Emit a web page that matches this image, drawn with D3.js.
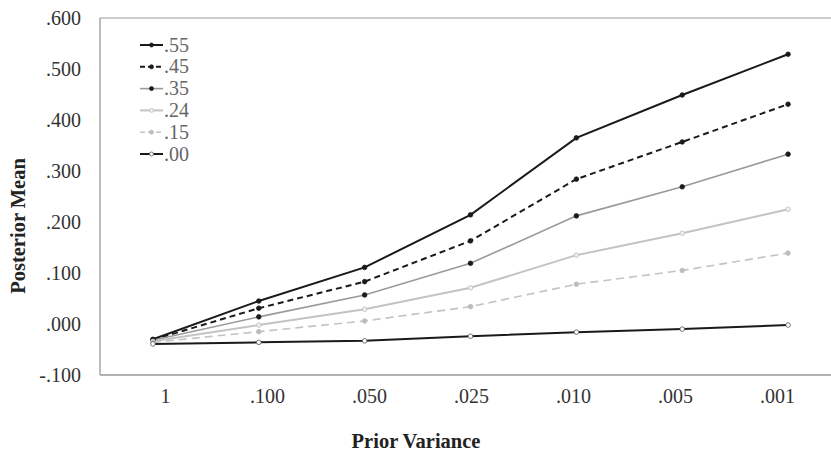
<!DOCTYPE html>
<html><head><meta charset="utf-8">
<script src="https://cdn.jsdelivr.net/npm/d3@7"></script>
<style>html,body{margin:0;padding:0;background:#fff;overflow:hidden}
svg text{font-family:"Liberation Serif","Times New Roman",serif}</style>
</head><body>
<svg id="c" width="831" height="453"></svg>
<script>
const categories = ["1", ".100", ".050", ".025", ".010", ".005", ".001"];
const seriesNames = [".55", ".45", ".35", ".24", ".15", ".00"];
const s55 = [-0.030, 0.045, 0.111, 0.214, 0.365, 0.449, 0.529];
const s45 = [-0.031, 0.031, 0.083, 0.163, 0.284, 0.357, 0.431];
const s35 = [-0.032, 0.014, 0.057, 0.119, 0.212, 0.269, 0.333];
const s24 = [-0.034, -0.002, 0.029, 0.071, 0.135, 0.178, 0.225];
const s15 = [-0.036, -0.015, 0.006, 0.034, 0.078, 0.105, 0.139];
const s00 = [-0.039, -0.036, -0.033, -0.024, -0.016, -0.010, -0.002];
const yTicks = [-0.1, 0, 0.1, 0.2, 0.3, 0.4, 0.5, 0.6];
const xTitle = "Prior Variance";
const yTitle = "Posterior Mean";

const styles = [
  {stroke:"#1a1a1a", width:2, dash:null, mFill:"#1a1a1a", mStroke:"#1a1a1a"},
  {stroke:"#1a1a1a", width:2, dash:"6,4", mFill:"#1a1a1a", mStroke:"#1a1a1a"},
  {stroke:"#9a9a9a", width:1.6, dash:null, mFill:"#1a1a1a", mStroke:"#1a1a1a"},
  {stroke:"#c3c3c3", width:2, dash:null, mFill:"#eeeeee", mStroke:"#bdbdbd"},
  {stroke:"#c3c3c3", width:1.6, dash:"8,5", mFill:"#bdbdbd", mStroke:"#bdbdbd"},
  {stroke:"#1a1a1a", width:2, dash:null, mFill:"#ffffff", mStroke:"#555555"}
];
const series = [s55, s45, s35, s24, s15, s00];

const svg = d3.select("#c");
const pLeft = 100, pTop = 18, pBottom = 375, pRight = 841;
const x = d3.scaleBand().domain(categories).range([pLeft, pRight]);
const xl = d3.scalePoint().domain(categories).range([165, 777]);
const y = d3.scaleLinear().domain([-0.1, 0.6]).range([pBottom, pTop]);
const serif = '"Liberation Serif","Times New Roman",serif';

// frame
svg.append("line").attr("x1", pLeft).attr("x2", pRight).attr("y1", pTop).attr("y2", pTop).attr("stroke", "#9a9a9a").attr("stroke-width", 1);
svg.append("line").attr("x1", pLeft).attr("x2", pRight).attr("y1", pBottom).attr("y2", pBottom).attr("stroke", "#9a9a9a").attr("stroke-width", 1.3);
svg.append("line").attr("x1", pLeft).attr("x2", pLeft).attr("y1", pTop).attr("y2", pBottom).attr("stroke", "#9a9a9a").attr("stroke-width", 1.3);

// y axis labels
const fmt = v => { const s = d3.format(".3f")(Math.abs(v)).replace(/^0/, ""); return (v < 0 ? "-" : "") + s; };
const yAxis = d3.axisLeft(y).tickValues(yTicks).tickFormat(fmt).tickSize(0).tickPadding(19);
const ga = svg.append("g").attr("transform", `translate(${pLeft},0)`).call(yAxis);
ga.attr("font-family", null);
ga.select(".domain").remove();
ga.selectAll("text").style("font-family", serif).style("font-size", "20px").attr("fill", "#333");

// x axis labels
const xAxis = d3.axisBottom(xl).tickSize(0).tickPadding(14);
const gx = svg.append("g").attr("transform", `translate(0,${pBottom})`).call(xAxis);
gx.attr("font-family", null);
gx.select(".domain").remove();
gx.selectAll("text").style("font-family", serif).style("font-size", "20px").attr("fill", "#333");

// titles
svg.append("text").attr("x", 416).attr("y", 448).attr("text-anchor", "middle")
  .style("font-family", serif).style("font-weight", "bold").style("font-size", "20.5px").attr("fill", "#222").text(xTitle);
svg.append("text").attr("transform", "translate(25,226) rotate(-90)").attr("text-anchor", "middle")
  .style("font-family", serif).style("font-weight", "bold").style("font-size", "20.5px").attr("fill", "#222").text(yTitle);

// lines
const cx = c => x(c) + x.bandwidth() / 2;
const line = d3.line().x((d, i) => cx(categories[i])).y(d => y(d));
series.forEach((vals, k) => {
  const st = styles[k];
  svg.append("path").datum(vals).attr("d", line).attr("fill", "none")
    .attr("stroke", st.stroke).attr("stroke-width", st.width)
    .attr("stroke-dasharray", st.dash);
});
series.forEach((vals, k) => {
  const st = styles[k];
  svg.append("g").selectAll("circle").data(vals).join("circle")
    .attr("cx", (d, i) => cx(categories[i])).attr("cy", d => y(d)).attr("r", 2.3)
    .attr("fill", st.mFill).attr("stroke", st.mStroke).attr("stroke-width", 0.8);
});

// legend
const lg = svg.append("g");
seriesNames.forEach((n, k) => {
  const st = styles[k];
  const yy = 45 + k * 21.8;
  lg.append("line").attr("x1", 140).attr("x2", 163).attr("y1", yy).attr("y2", yy)
    .attr("stroke", st.stroke).attr("stroke-width", st.width).attr("stroke-dasharray", st.dash ? "5,3" : null);
  lg.append("circle").attr("cx", 151.5).attr("cy", yy).attr("r", 2)
    .attr("fill", st.mFill).attr("stroke", st.mStroke).attr("stroke-width", 0.8);
  lg.append("text").attr("x", 164).attr("y", yy).attr("dy", "0.33em")
    .style("font-family", serif).style("font-size", "20px").attr("fill", "#666").text(n);
});
</script>
</body></html>
